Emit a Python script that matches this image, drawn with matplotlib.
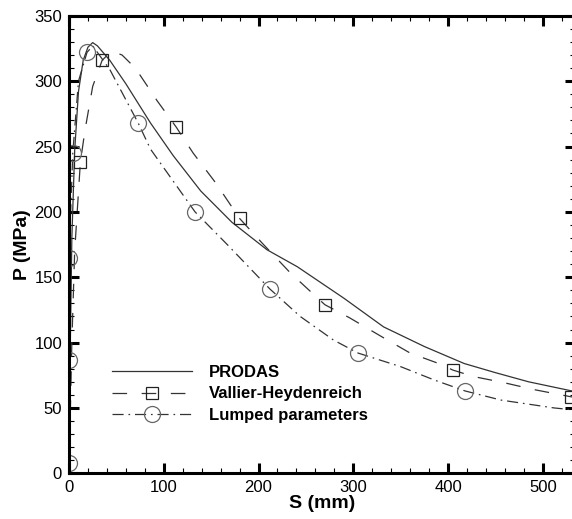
import matplotlib
matplotlib.use("Agg")
import matplotlib.pyplot as plt
from matplotlib.ticker import MultipleLocator

plt.rcParams['font.family'] = ['Liberation Sans', 'DejaVu Sans']
plt.rcParams['lines.scale_dashes'] = False

# PRODAS (solid)
prodas_s = [0, 1, 3, 6, 10, 15, 20, 25, 30, 43, 60, 86, 110, 139, 172, 209, 241, 290, 332, 375, 417, 450, 485, 534]
prodas_p = [0, 80, 180, 247, 292, 316, 326, 329.5, 327, 316, 298, 268, 243, 216, 192, 171, 158, 134, 112, 97, 84, 77, 70, 62.5]

# Vallier-Heydenreich (dashed, squares)
vallier_s = [0, 3, 6, 12, 17, 25, 35, 45, 56, 70, 82, 93, 113, 131, 155, 180, 204, 234, 270, 296, 330, 360, 392, 405, 427, 458, 491, 530, 534]
vallier_p = [0, 100, 170, 238, 263, 296, 316, 323, 320, 310, 297, 285, 265, 245, 222, 195, 176, 153, 129, 119, 104.5, 92, 83.5, 79, 74, 69.5, 64, 58.5, 58.2]
vallier_marks = [3, 6, 12, 15, 18, 23, 27]

# Lumped parameters (dash-dot, circles)
lumped_s = [0, 0, 0, 4, 10, 19, 25, 43, 73, 86, 133, 167, 212, 244, 279, 305, 350, 385, 418, 456, 512, 534]
lumped_p = [8, 87, 165, 245, 300, 322, 327, 309, 268, 248, 200, 175, 141, 120, 102, 92, 81.6, 71.5, 63, 56, 50, 48.4]
lumped_marks = [0, 1, 2, 3, 5, 8, 10, 12, 15, 18]

fig = plt.figure(figsize=(5.72, 5.19), dpi=100)
ax = fig.add_axes([69 / 572, 1 - 473.3 / 519, 506 / 572, 457.5 / 519])

ax.plot(prodas_s, prodas_p, color='#333333', lw=0.9, label='PRODAS')
ax.plot(vallier_s, vallier_p, color='#333333', lw=0.9, dashes=(10.5, 10.5),
        marker='s', markevery=vallier_marks, markersize=9, markerfacecolor='none',
        markeredgecolor='#222222', markeredgewidth=0.9, label='Vallier-Heydenreich')
ax.plot(lumped_s, lumped_p, color='#333333', lw=0.9, dashes=(8, 3.5, 1.2, 3.5),
        marker='o', markevery=lumped_marks, markersize=11.5, markerfacecolor='none',
        markeredgecolor='#666666', markeredgewidth=0.9, label='Lumped parameters')

ax.set_xlim(0, 534)
ax.set_ylim(0, 350)
ax.xaxis.set_major_locator(MultipleLocator(100))
ax.xaxis.set_minor_locator(MultipleLocator(20))
ax.yaxis.set_major_locator(MultipleLocator(50))
ax.yaxis.set_minor_locator(MultipleLocator(10))
ax.tick_params(which='both', direction='in', top=True, right=True, labelsize=12, colors='black')
ax.tick_params(which='major', length=7, width=2.2, pad=5)
ax.tick_params(which='minor', length=3.8, width=0.8)
for sp in ax.spines.values():
    sp.set_linewidth(2.2)

ax.set_xlabel('S (mm)', fontsize=14, fontweight='bold', labelpad=0)
ax.set_ylabel('P (MPa)', fontsize=14, fontweight='bold', labelpad=2)

ax.legend(loc='upper left', bbox_to_anchor=(0.085, 0.236), frameon=False,
          prop={'weight': 'bold', 'size': 12}, handlelength=4.8, handletextpad=1.0,
          labelspacing=0.37, borderpad=0, borderaxespad=0)

fig.savefig('out.png', dpi=100)
